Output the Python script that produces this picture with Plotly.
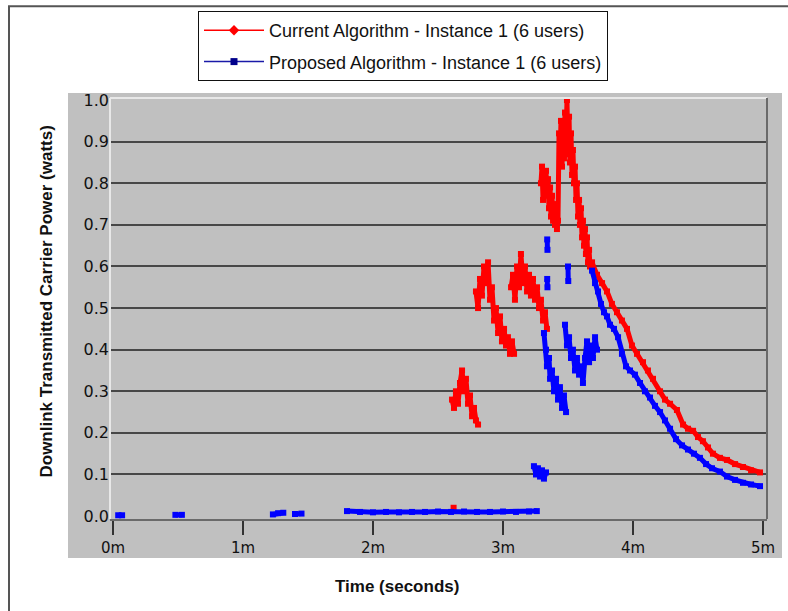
import plotly.graph_objects as go

# ---------------- data (time in minutes, power in watts) ----------------
x_tick_vals = [0, 1, 2, 3, 4, 5]
x_tick_text = ["0m", "1m", "2m", "3m", "4m", "5m"]
y_tick_vals = [0.0, 0.1, 0.2, 0.3, 0.4, 0.5, 0.6, 0.7, 0.8, 0.9, 1.0]
y_tick_text = ["0.0", "0.1", "0.2", "0.3", "0.4", "0.5", "0.6", "0.7", "0.8", "0.9", "1.0"]
y_grid_vals = [0.1, 0.2, 0.3, 0.4, 0.5, 0.6, 0.7, 0.8, 0.9]

series_names = ["Current Algorithm - Instance 1 (6 users)",
                "Proposed Algorithm - Instance 1 (6 users)"]

current_time = [
    2.62, None,
    2.608, 2.623, 2.638, 2.654, 2.669, 2.685, 2.700, 2.715, 2.731, 2.746, 2.762, 2.777, 2.792, 2.808, None,
    2.792, 2.808, 2.823, 2.838, 2.854, 2.869, 2.885, 2.900, 2.915, 2.931, 2.946, 2.962, 2.977, 2.992,
    3.008, 3.023, 3.038, 3.054, 3.069, 3.085, None,
    3.062, 3.077, 3.092, 3.108, 3.123, 3.138, 3.154, 3.169, 3.185, 3.200, 3.215, 3.231, 3.246, 3.262,
    3.277, 3.292, 3.308, 3.323, 3.338, None,
    3.292, 3.300, 3.308, 3.315, 3.323, 3.331, 3.338, 3.346, 3.354, 3.362, 3.369, 3.377, 3.385, 3.392,
    3.400, 3.408, 3.415, 3.423,
    3.431, 3.438, 3.446, 3.454, 3.462, 3.469, 3.477, 3.485, 3.492, 3.500, 3.508, 3.515, 3.523, 3.531,
    3.538, 3.546, 3.554, 3.562, 3.569, 3.577, 3.585, 3.592, 3.600, 3.608, 3.615, 3.623, 3.631, 3.638,
    3.646, 3.654, 3.662, 3.669, 3.685, 3.723, 3.762, 3.800, 3.838, 3.877, 3.915, 3.954, 3.992, 4.031,
    4.077, 4.115, 4.154, 4.208, 4.246, 4.285, 4.338, 4.385, 4.423, 4.462, 4.500, 4.538, 4.577, 4.615,
    4.669, 4.723, 4.785, 4.846, 4.908, 4.977,
]
current_power = [
    0.02, None,
    0.28, 0.26, 0.30, 0.27, 0.32, 0.35, 0.30, 0.33, 0.27, 0.29, 0.24, 0.26, 0.23, 0.22, None,
    0.54, 0.50, 0.57, 0.53, 0.60, 0.56, 0.61, 0.52, 0.55, 0.47, 0.50, 0.44, 0.48, 0.42,
    0.45, 0.41, 0.43, 0.39, 0.42, 0.39, None,
    0.55, 0.58, 0.52, 0.60, 0.55, 0.63, 0.56, 0.60, 0.54, 0.58, 0.53, 0.57, 0.52, 0.55,
    0.50, 0.52, 0.47, 0.49, 0.45, None,
    0.80, 0.84, 0.76, 0.82, 0.78, 0.83, 0.77, 0.81, 0.74, 0.79, 0.72, 0.77, 0.71, 0.75,
    0.70, 0.73, 0.69, 0.71,
    0.92, 0.85, 0.95, 0.84, 0.93, 0.86, 0.97, 0.88, 1.00, 0.87, 0.96, 0.85, 0.92, 0.82,
    0.88, 0.80, 0.84, 0.76, 0.80, 0.72, 0.76, 0.70, 0.74, 0.67, 0.71, 0.65, 0.69, 0.63,
    0.67, 0.61, 0.64, 0.60, 0.61, 0.58, 0.56, 0.54, 0.51, 0.49, 0.47, 0.45, 0.41, 0.39,
    0.37, 0.35, 0.33, 0.30, 0.28, 0.27, 0.255, 0.22, 0.21, 0.205, 0.19, 0.18, 0.165, 0.15,
    0.14, 0.135, 0.125, 0.118, 0.11, 0.105,
]

proposed_time = [
    0.04, 0.07, None,
    0.48, 0.53, None,
    1.23, 1.27, 1.31, None,
    1.40, 1.45, None,
    1.80, 1.90, 2.00, 2.10, 2.20, 2.30, 2.40, 2.50, 2.60, 2.70, 2.80, 2.90, 3.00, 3.10, 3.20, 3.26, None,
    3.238, 3.254, 3.269, 3.285, 3.300, 3.315, 3.331, None,
    3.340, 3.342, None,
    3.340, 3.342, None,
    3.500, 3.502, None,
    3.315, 3.331, 3.338, 3.354, 3.362, 3.377, 3.392, 3.408, 3.423, 3.438, 3.454, 3.469, 3.485, None,
    3.477, 3.492, 3.508, 3.523, 3.538, 3.554, 3.569, 3.585, 3.600, 3.615, 3.631, 3.646, 3.662, 3.677,
    3.692, 3.708, 3.723, None,
    3.685, 3.708, 3.731, 3.754, 3.777, 3.800, 3.823, 3.854, 3.885, 3.915, 3.946, 3.977, 4.015, 4.054,
    4.092, 4.131, 4.169, 4.208, 4.246, 4.285, 4.331, 4.377, 4.423, 4.469, 4.515, 4.562, 4.608, 4.669,
    4.723, 4.785, 4.846, 4.908, 4.977,
]
proposed_power = [
    0.002, 0.002, None,
    0.003, 0.003, None,
    0.004, 0.007, 0.008, None,
    0.005, 0.006, None,
    0.012, 0.010, 0.009, 0.010, 0.009, 0.010, 0.010, 0.011, 0.010, 0.011, 0.010, 0.010, 0.011, 0.010, 0.011, 0.012, None,
    0.12, 0.10, 0.115, 0.095, 0.11, 0.09, 0.105, None,
    0.665, 0.64, None,
    0.57, 0.55, None,
    0.60, 0.565, None,
    0.44, 0.40, 0.36, 0.38, 0.33, 0.35, 0.30, 0.33, 0.28, 0.31, 0.26, 0.29, 0.25, None,
    0.46, 0.41, 0.43, 0.38, 0.40, 0.35, 0.38, 0.34, 0.36, 0.32, 0.38, 0.42, 0.37, 0.41,
    0.38, 0.43, 0.40, None,
    0.59, 0.56, 0.54, 0.51, 0.49, 0.48, 0.46, 0.45, 0.43, 0.39, 0.36, 0.35, 0.34, 0.32,
    0.30, 0.285, 0.265, 0.25, 0.23, 0.21, 0.185, 0.17, 0.16, 0.15, 0.14, 0.125, 0.115, 0.107,
    0.095, 0.087, 0.08, 0.076, 0.072,
]

RED = "#ff0000"
BLUE = "#0000ff"

# ---------------- figure geometry (pixels) ----------------
W, H = 788, 611
PL, PR, PT, PB = 110, 767, 97, 519          # plot area edges


def px(x):
    return (x - PL) / (PR - PL)


def py(y):
    return (PB - y) / (PB - PT)


fig = go.Figure()

# data traces
fig.add_trace(go.Scatter(
    x=current_time, y=current_power, mode="lines+markers",
    line=dict(color=RED, width=5), marker=dict(color=RED, symbol="square", size=6),
    connectgaps=False, showlegend=False, hoverinfo="x+y"))
fig.add_trace(go.Scatter(
    x=proposed_time, y=proposed_power, mode="lines+markers",
    line=dict(color=BLUE, width=5), marker=dict(color=BLUE, symbol="square", size=6),
    connectgaps=False, showlegend=False, hoverinfo="x+y"))

# legend entries (thin line + marker, as in the original legend)
fig.add_trace(go.Scatter(
    x=[None], y=[None], mode="lines+markers", name=series_names[0], legendgroup="a",
    line=dict(color=RED, width=1.5), marker=dict(color=RED, symbol="diamond", size=8)))
fig.add_trace(go.Scatter(
    x=[None], y=[None], mode="lines+markers", name=series_names[1], legendgroup="b",
    line=dict(color="#1a1aa8", width=1.5), marker=dict(color="#00008b", symbol="square", size=7)))

shapes = [
    # outer frame
    dict(type="rect", xref="paper", yref="paper", x0=px(9), x1=px(900), y0=py(700), y1=py(5),
         line=dict(color="#555555", width=2), fillcolor="rgba(0,0,0,0)", layer="below"),
    # gray chart panel
    dict(type="rect", xref="paper", yref="paper", x0=px(68), x1=px(782), y0=py(558), y1=py(92),
         line=dict(width=0), fillcolor="#c0c0c0", layer="below"),
    # plot border highlights
    dict(type="line", xref="paper", yref="paper", x0=0, x1=1, y0=1, y1=1,
         line=dict(color="#e8e8e8", width=2), layer="above"),
    dict(type="line", xref="paper", yref="paper", x0=0, x1=0, y0=0, y1=1,
         line=dict(color="#e8e8e8", width=2), layer="above"),
    dict(type="line", xref="paper", yref="paper", x0=1, x1=1, y0=0, y1=1,
         line=dict(color="#6a6a6a", width=2), layer="above"),
]

annotations = [
    dict(text="<b>Downlink Transmitted Carrier Power (watts)</b>", xref="paper", yref="paper",
         x=px(47), y=py(301), xanchor="center", yanchor="middle", textangle=-90, showarrow=False,
         font=dict(family="Liberation Sans, Arial", size=17, color="#111111")),
    dict(text="<b>Time (seconds)</b>", xref="paper", yref="paper",
         x=px(397), y=py(587), xanchor="center", yanchor="middle", showarrow=False,
         font=dict(family="Liberation Sans, Arial", size=17, color="#111111")),
]

fig.update_layout(
    width=W, height=H,
    margin=dict(l=PL, r=W - PR, t=PT, b=H - PB, pad=0),
    paper_bgcolor="white",
    plot_bgcolor="#c0c0c0",
    shapes=shapes,
    annotations=annotations,
    showlegend=True,
    legend=dict(
        x=px(198), y=py(11), xanchor="left", yanchor="top",
        bgcolor="white", bordercolor="#111111", borderwidth=1,
        font=dict(family="Liberation Sans, Arial", size=18, color="#111111"),
        tracegroupgap=5, itemwidth=60,
    ),
    xaxis=dict(
        range=[(PL - 113) / 130, (PR - 113) / 130],
        tickmode="array", tickvals=x_tick_vals, ticktext=x_tick_text,
        ticks="outside", ticklen=14, tickwidth=2, tickcolor="#333333",
        showline=True, linecolor="#6a6a6a", linewidth=2,
        showgrid=False, zeroline=False,
        tickfont=dict(family="DejaVu Sans", size=15, color="#111111"),
    ),
    yaxis=dict(
        range=[-0.007, 1.005],
        tickmode="array", tickvals=y_tick_vals, ticktext=y_tick_text,
        ticks="", showline=False, showgrid=False, zeroline=False,
        tickfont=dict(family="DejaVu Sans", size=16, color="#111111"),
        minor=dict(tickmode="array", tickvals=y_grid_vals, showgrid=True,
                   gridcolor="#474747", gridwidth=2, ticks=""),
    ),
)

fig.write_html("out.html", config={"displayModeBar": False},
               post_script="document.body.style.margin='0px';")
